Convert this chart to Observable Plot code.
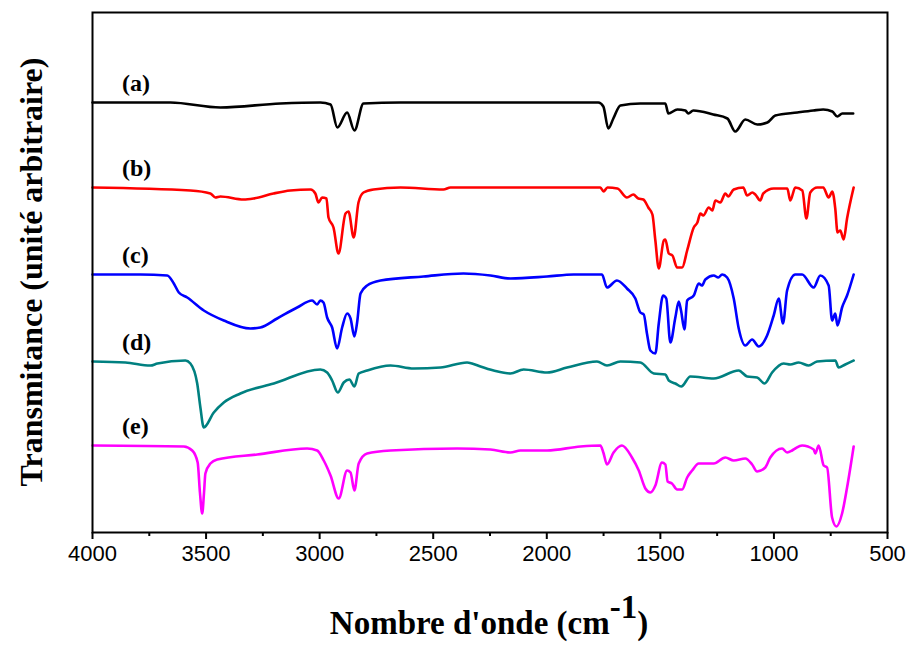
<!DOCTYPE html>
<html>
<head>
<meta charset="utf-8">
<script src="https://cdn.jsdelivr.net/npm/d3@7"></script>
<script src="https://cdn.jsdelivr.net/npm/@observablehq/plot@0.6"></script>
<style>
  html, body { margin: 0; padding: 0; background: #fff; }
  #chart { width: 908px; height: 646px; }
</style>
</head>
<body>
<div id="chart"></div>
<script>
// ---- Data ----
const seriesNames = ["(a)", "(b)", "(c)", "(d)", "(e)"];
const seriesColors = ["#000000", "#ff0000", "#0000ff", "#008080", "#ff00ff"];
const majorTicks = [4000, 3500, 3000, 2500, 2000, 1500, 1000, 500];
const minorTicks = [3750, 3250, 2750, 2250, 1750, 1250, 750];

// (a) black
const wnA = [4000,3657,3437,3173,2997,2952,2922,2879,2847,2807,2644,1773,1751,1729,1707,1676,1588,1478,1465,1425,1390,1377,1355,1267,1205,1170,1126,1073,1029,994,897,827,783,743,721,699,651];
const tA  = [430,430,425,429,430,428,405,420,402,429,430,430,426,404,414,427,429,429,419,423,422,419,422,418,414,401,413,408,410,417,420,422,423,421,416,419,419];

// (b) red
const wnB = [4000,3569,3481,3459,3437,3335,3291,3203,3129,3040,3019,3005,2989,2970,2961,2939,2917,2886,2873,2850,2829,2807,2763,2644,2455,2424,1764,1750,1733,1689,1647,1619,1597,1575,1553,1535,1522,1507,1485,1478,1463,1447,1426,1404,1382,1353,1337,1324,1311,1287,1271,1258,1236,1214,1201,1177,1135,1118,1095,1082,1060,1047,1001,941,928,906,875,857,840,809,783,759,743,730,720,708,693,678,649];
const tB  = [345,342,339,335,336,333,334,339,342,343,339,330,335,334,315,305,279,319,321,295,330,340,343,345,343,345,345,341,345,344,335,338,334,333,325,318,292,264,292,293,279,277,265,265,282,305,310,319,317,325,322,332,330,339,336,343,345,337,340,338,332,339,344,344,332,345,342,314,340,345,345,335,341,324,300,302,293,314,345];

// (c) blue
const wnC = [4000,3789,3671,3642,3620,3583,3510,3422,3305,3261,3187,3099,3033,3011,2997,2983,2967,2945,2923,2901,2879,2864,2847,2835,2820,2791,2732,2543,2367,2248,2160,1999,1882,1757,1735,1691,1647,1610,1588,1573,1559,1544,1522,1507,1488,1474,1456,1434,1419,1409,1394,1382,1353,1331,1317,1302,1265,1245,1228,1206,1177,1155,1126,1096,1067,1030,1001,979,960,942,906,876,825,796,759,744,730,720,700,678,649];
const tC  = [258,258,257,249,240,235,222,212,204,205,214,225,232,228,232,230,215,205,184,205,219,214,196,210,239,247,252,256,259,257,254,256,258,258,245,252,244,234,220,218,199,182,179,209,237,234,190,215,231,222,203,232,237,249,247,253,257,255,258,255,234,204,187,193,186,197,217,234,209,242,258,258,245,257,247,212,219,207,225,237,258];

// (d) teal
const wnD = [4000,3855,3745,3714,3591,3569,3539,3525,3510,3466,3422,3349,3202,2997,2967,2945,2920,2894,2869,2847,2828,2791,2688,2586,2468,2351,2329,2292,2234,2160,2102,1999,1911,1779,1735,1676,1588,1529,1478,1463,1434,1408,1368,1265,1155,1118,1074,1041,1008,957,928,891,847,810,730,715,686,649];
const tD  = [171,170,167,169,172,169,149,125,105,120,130,139,149,163,160,152,140,150,153,146,159,162,167,164,165,170,169,166,162,159,163,160,165,171,167,171,170,159,158,152,149,146,156,154,162,156,155,149,160,169,168,170,167,171,172,165,168,172];

// (e) magenta
const wnE = [4000,3598,3561,3537,3527,3517,3509,3503,3481,3451,3275,3055,3011,2982,2952,2916,2879,2864,2847,2828,2791,2688,2395,2248,2160,2116,1999,1852,1764,1751,1735,1706,1669,1625,1595,1566,1544,1522,1493,1478,1468,1449,1426,1404,1382,1360,1331,1265,1214,1177,1126,1096,1074,1038,1016,964,942,920,906,876,825,818,803,781,766,744,725,700,678,649];
const tE  = [87,86,82,70,40,19,40,59,69,73,78,84,82,72,57,34,62,60,42,69,79,82,84,83,80,82,82,86,87,80,68,80,87,75,62,44,40,47,70,68,51,49,43,43,55,62,69,69,75,72,74,68,61,65,75,84,80,82,84,87,83,79,87,67,65,15,6,19,45,86];

const labelWn = 3870;     // where the (a)…(e) tags start
const labelLift = 19;     // tag height above each trace's baseline

// ---- Build tables ----
const allSeries = [[wnA, tA], [wnB, tB], [wnC, tC], [wnD, tD], [wnE, tE]];
const rows = [];
allSeries.forEach(([wn, t], k) => wn.forEach((w, i) => rows.push({series: seriesNames[k], wn: w, t: t[i]})));
const labelRows = allSeries.map(([wn, t], k) => ({series: seriesNames[k], wn: labelWn, t: t[0] + labelLift}));

const serif = "'Liberation Serif', 'Times New Roman', serif";

const plot = Plot.plot({
  width: 908,
  height: 646,
  marginLeft: 92,
  marginRight: 21,
  marginTop: 12,
  marginBottom: 114,
  x: {domain: [4000, 500]},
  y: {domain: [0, 520], axis: null},
  color: {domain: seriesNames, range: seriesColors},
  style: {background: "white", fontFamily: "'Liberation Sans', Arial, sans-serif", color: "black"},
  marks: [
    Plot.line(rows, {x: "wn", y: "t", z: "series", stroke: "series", strokeWidth: 2.6, strokeLinejoin: "round", curve: "monotone-x"}),
    Plot.text(labelRows, {x: "wn", y: "t", text: "series", textAnchor: "start", fontWeight: "bold", fontSize: 24, fontFamily: serif, fill: "black"}),
    Plot.axisX({ticks: minorTicks, tickSize: 4, tickFormat: () => "", strokeWidth: 2, label: null}),
    Plot.axisX({ticks: majorTicks, tickSize: 7, tickPadding: 6, tickFormat: d => String(d), fontSize: 22, strokeWidth: 2, label: null}),
    Plot.frame({stroke: "black", strokeWidth: 2})
  ]
});

document.getElementById("chart").appendChild(plot);

// ---- Axis titles (real text, with superscript) ----
const svg = d3.select(plot);
svg.append("text")
  .attr("transform", "translate(31,272) rotate(-90)")
  .attr("text-anchor", "middle")
  .attr("dominant-baseline", "central")
  .attr("font-family", serif)
  .attr("font-weight", "bold")
  .attr("font-size", 32)
  .attr("fill", "black")
  .text("Transmitance (unité arbitraire)");

const xt = svg.append("text")
  .attr("x", 489)
  .attr("y", 634)
  .attr("text-anchor", "middle")
  .attr("font-family", serif)
  .attr("font-weight", "bold")
  .attr("font-size", 33)
  .attr("fill", "black");
xt.append("tspan").text("Nombre d'onde (cm");
xt.append("tspan").attr("dy", -16).text("-1");
xt.append("tspan").attr("dy", 16).text(")");
</script>
</body>
</html>
